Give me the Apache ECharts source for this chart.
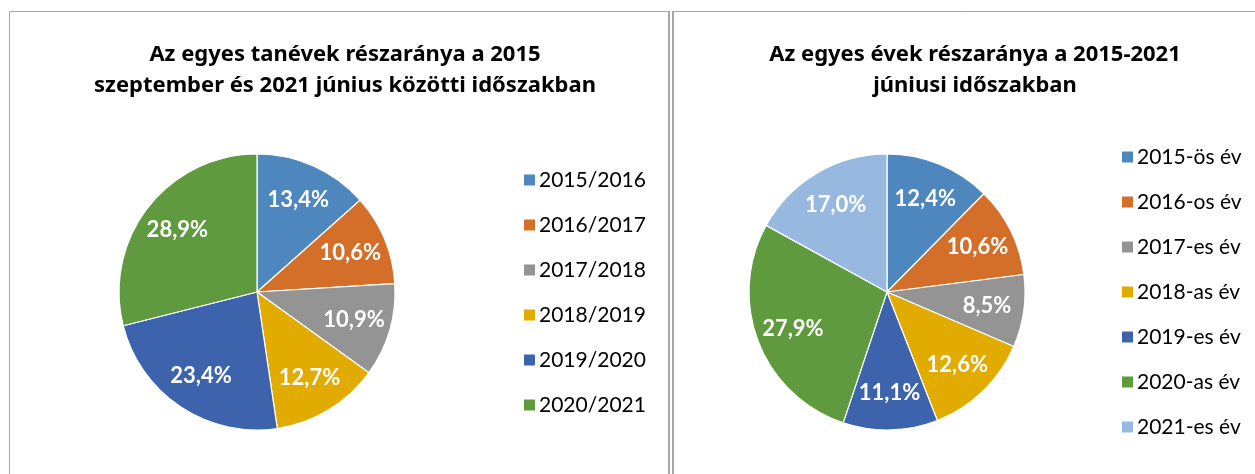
<!DOCTYPE html>
<html>
<head>
<meta charset="utf-8">
<script src="https://cdn.jsdelivr.net/npm/echarts@6/dist/echarts.min.js"></script>
<style>html,body{margin:0;padding:0;background:#fff;}#c{width:1255px;height:474px;}</style>
</head>
<body>
<div id="c"></div>
<script>
var leftTitle = 'Az egyes tanévek részaránya a 2015\nszeptember és 2021 június közötti időszakban';
var rightTitle = 'Az egyes évek részaránya a 2015-2021\njúniusi időszakban';
var leftCategories = ['2015/2016', '2016/2017', '2017/2018', '2018/2019', '2019/2020', '2020/2021'];
var leftValues = [13.4, 10.6, 10.9, 12.7, 23.4, 28.9];
var rightCategories = ['2015-ös év', '2016-os év', '2017-es év', '2018-as év', '2019-es év', '2020-as év', '2021-es év'];
var rightValues = [12.4, 10.6, 8.5, 12.6, 11.1, 27.9, 17.0];
var palette = ['#4E87BE', '#D46F2A', '#949494', '#E2AB00', '#3C63AC', '#5F9A3E', '#97B9DF'];

var FONT = 'Lato';
var TFONT = 'Noto Sans';
function fmt(p) { return p.value.toFixed(1).replace('.', ',') + '%'; }
function items(cats, vals) {
  return cats.map(function (c, i) { return { name: c, value: vals[i], itemStyle: { color: palette[i] } }; });
}
function legendData(cats) {
  return cats.map(function (c, i) { return { name: c, itemStyle: { color: palette[i] } }; });
}
var R = 138;
function pies(cats, vals, center) {
  return [
    {
      type: 'pie', center: center, radius: [0, R], startAngle: 90, clockwise: true,
      data: items(cats, vals), label: { show: false }, labelLine: { show: false },
      itemStyle: { borderColor: '#fff', borderWidth: 1.2 }, emphasis: { disabled: true }, animation: false
    },
    {
      type: 'pie', center: center, radius: [R * 0.42, R], startAngle: 90, clockwise: true,
      data: items(cats, vals).map(function (d) { d.itemStyle = { color: 'rgba(0,0,0,0)' }; return d; }),
      silent: true, emphasis: { disabled: true }, animation: false,
      label: { show: true, position: 'inside', formatter: fmt, color: '#fff', fontFamily: FONT, fontWeight: 'bold', fontSize: 22 },
      labelLine: { show: false }
    }
  ];
}
var chart = echarts.init(document.getElementById('c'), null, { renderer: 'canvas' });
var series = pies(leftCategories, leftValues, [257, 292]).concat(pies(rightCategories, rightValues, [887, 292]));
var titleStyle = { fontFamily: TFONT, fontWeight: 'bold', fontSize: 22, lineHeight: 31, color: '#000' };
chart.setOption({
  animation: false,
  backgroundColor: '#fff',
  title: [
    { text: leftTitle, left: 340, top: 34, textAlign: 'center', textStyle: titleStyle },
    { text: rightTitle, left: 970, top: 34, textAlign: 'center', textStyle: titleStyle }
  ],
  legend: [
    { orient: 'vertical', left: 517, top: 164, itemWidth: 13, itemHeight: 13, itemGap: 23, icon: 'rect',
      data: legendData(leftCategories), selectedMode: false,
      textStyle: { fontFamily: FONT, fontSize: 21, color: '#000', lineHeight: 22, padding: [0, 0, 0, -2] } },
    { orient: 'vertical', left: 1115, top: 141, itemWidth: 13, itemHeight: 13, itemGap: 23, icon: 'rect',
      data: legendData(rightCategories), selectedMode: false,
      textStyle: { fontFamily: FONT, fontSize: 21, color: '#000', lineHeight: 22, padding: [0, 0, 0, -2] } }
  ],
  series: series,
  graphic: [
    { type: 'rect', shape: { x: 9.5, y: 11.5, width: 659, height: 500 }, style: { fill: 'none', stroke: '#a6a6a6', lineWidth: 1 }, silent: true },
    { type: 'rect', shape: { x: 673.5, y: 11.5, width: 620, height: 500 }, style: { fill: 'none', stroke: '#a6a6a6', lineWidth: 1 }, silent: true },
    { type: 'line', shape: { x1: 669, y1: 11, x2: 669, y2: 480 }, style: { stroke: '#a6a6a6', lineWidth: 2 }, silent: true },
    { type: 'line', shape: { x1: 673, y1: 11, x2: 673, y2: 480 }, style: { stroke: '#a6a6a6', lineWidth: 2 }, silent: true }
  ]
});
</script>
</body>
</html>
